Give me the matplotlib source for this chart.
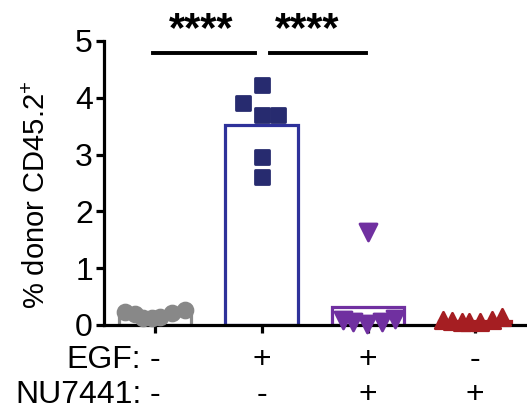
import matplotlib
matplotlib.use("Agg")
import matplotlib.pyplot as plt
from matplotlib.markers import MarkerStyle
import numpy as np

# ---------------- data ----------------
groups = ["ctrl", "EGF", "EGF+NU7441", "NU7441"]
egf_signs = ["-", "+", "+", "-"]
nu_signs = ["-", "-", "+", "+"]
vals_ctrl = [0.23, 0.19, 0.12, 0.12, 0.14, 0.21, 0.26]
vals_egf = [4.22, 3.91, 3.70, 3.70, 2.96, 2.61]
vals_egf_nu = [0.09, 0.06, 0.01, 0.05, 0.10, 1.63]
vals_nu = [0.08, 0.07, 0.05, 0.05, 0.06, 0.08, 0.14]
yticks = [0, 1, 2, 3, 4, 5]
ylabel = "% donor CD45.2$^{+}$"
sig_labels = ["****", "****"]
sig_pairs = [(0, 1), (1, 2)]

# ---------------- layout / style ----------------
jitter = [
    [-0.28, -0.19, -0.11, -0.03, 0.05, 0.16, 0.28],
    [0.0, -0.18, 0.0, 0.15, 0.0, 0.0],
    [-0.24, -0.14, -0.01, 0.13, 0.25, 0.0],
    [-0.30, -0.21, -0.12, -0.05, 0.05, 0.16, 0.26],
]
bar_colors = ["#8a8a8a", "#2e319a", "#7030a0", "#a51e22"]
pt_colors = ["#888888", "#272b6f", "#7030a0", "#a51e22"]
markers = ["o", "s", "v", "^"]
msizes = [115, 105, 150, 140]

plt.rcParams["font.family"] = ["Liberation Sans", "DejaVu Sans"]
plt.rcParams["mathtext.fontset"] = "custom"
plt.rcParams["mathtext.rm"] = "Liberation Sans"
plt.rcParams["mathtext.it"] = "Liberation Sans"

fig = plt.figure(figsize=(5.27, 4.12), dpi=100)
ax = fig.add_axes([104 / 527, 1 - 325 / 412, 1 - 104 / 527, (325 - 41) / 412])

all_vals = [vals_ctrl, vals_egf, vals_egf_nu, vals_nu]
x = np.arange(len(groups))
means = [np.mean(v) for v in all_vals]
ax.bar(x, means, width=0.68, facecolor="white", edgecolor=bar_colors,
       linewidth=2.3, zorder=2)
for i, v in enumerate(all_vals):
    m = MarkerStyle(markers[i], joinstyle="round")
    ax.scatter(x[i] + np.array(jitter[i]), v, marker=m, s=msizes[i],
               color=pt_colors[i], edgecolors=pt_colors[i], linewidths=2.0,
               zorder=4, clip_on=False)

ax.set_xlim(-0.48, 3.49)
ax.set_ylim(0, 5)
ax.set_yticks(yticks)
ax.set_xticks(x)
ax.set_xticklabels([])
for s in ["top", "right"]:
    ax.spines[s].set_visible(False)
for s in ["left", "bottom"]:
    ax.spines[s].set_linewidth(2.3)
    ax.spines[s].set_zorder(3)
ax.tick_params(axis="both", direction="out", width=2.3, length=6,
               labelsize=23, pad=2)
ax.set_ylabel(ylabel, fontsize=21, va="center")
ax.yaxis.set_label_coords(-0.158, 0.46)

# significance bars
for (a, b), lab in zip(sig_pairs, sig_labels):
    ax.plot([a - 0.02 + (0.1 if a > 0 else 0), b - 0.06 + (0.04 if a > 0 else 0)],
            [4.79, 4.79], color="black", lw=2.8, clip_on=False, zorder=5)
    ax.text((a + b) / 2 - 0.07, 4.84, lab, ha="center", va="bottom",
            fontsize=30, fontweight="bold", clip_on=False)

# condition rows (baselines)
trans = ax.get_xaxis_transform()
row_y = [-0.151, -0.275]
for lab, signs, ry in zip(["EGF:", "NU7441:"], [egf_signs, nu_signs], row_y):
    ax.text(-0.13, ry, lab, transform=trans, ha="right", va="baseline",
            fontsize=23)
    for i, sg in enumerate(signs):
        ax.text(x[i], ry, sg, transform=trans, ha="center", va="baseline",
                fontsize=23)

fig.savefig("out.png", dpi=100)
